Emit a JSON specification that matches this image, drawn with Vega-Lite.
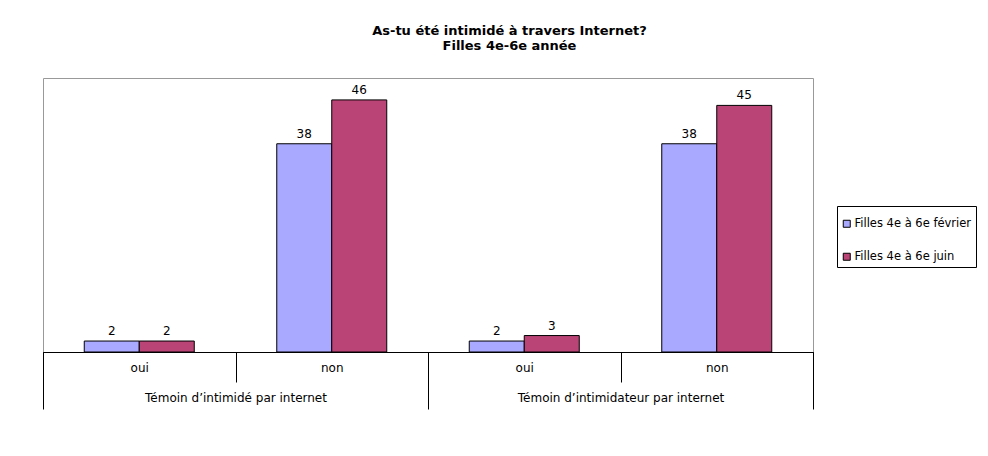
{
  "$schema": "https://vega.github.io/schema/vega-lite/v6.json",
  "width": 770,
  "height": 274,
  "padding": {"left": 42, "top": 25, "right": 10, "bottom": 5},
  "background": "white",
  "title": {
    "text": ["As-tu été intimidé à travers Internet?", "Filles 4e-6e année"],
    "font": "DejaVu Sans",
    "fontSize": 13,
    "fontWeight": "bold",
    "color": "black",
    "anchor": "middle",
    "frame": "bounds",
    "lineHeight": 15,
    "offset": 25
  },
  "data": {
    "values": [
      {"group": "Témoin d’intimidé par internet", "cat": "Témoin d’intimidé par internet|oui", "series": "Filles 4e à 6e février", "value": 2},
      {"group": "Témoin d’intimidé par internet", "cat": "Témoin d’intimidé par internet|oui", "series": "Filles 4e à 6e juin", "value": 2},
      {"group": "Témoin d’intimidé par internet", "cat": "Témoin d’intimidé par internet|non", "series": "Filles 4e à 6e février", "value": 38},
      {"group": "Témoin d’intimidé par internet", "cat": "Témoin d’intimidé par internet|non", "series": "Filles 4e à 6e juin", "value": 46},
      {"group": "Témoin d’intimidateur par internet", "cat": "Témoin d’intimidateur par internet|oui", "series": "Filles 4e à 6e février", "value": 2},
      {"group": "Témoin d’intimidateur par internet", "cat": "Témoin d’intimidateur par internet|oui", "series": "Filles 4e à 6e juin", "value": 3},
      {"group": "Témoin d’intimidateur par internet", "cat": "Témoin d’intimidateur par internet|non", "series": "Filles 4e à 6e février", "value": 38},
      {"group": "Témoin d’intimidateur par internet", "cat": "Témoin d’intimidateur par internet|non", "series": "Filles 4e à 6e juin", "value": 45}
    ]
  },
  "layer": [
    {
      "encoding": {
        "x": {
          "field": "cat",
          "type": "nominal",
          "sort": null,
          "scale": {"paddingInner": 0, "paddingOuter": 0},
          "axis": {
            "title": null,
            "orient": "bottom",
            "labelAngle": 0,
            "labelExpr": "split(datum.label, '|')[1]",
            "tickBand": "extent",
            "tickSize": 30,
            "tickColor": "black",
            "domainColor": "black",
            "labelPadding": -20,
            "labelFont": "DejaVu Sans",
            "labelFontSize": 12,
            "labelColor": "black"
          }
        },
        "xOffset": {
          "field": "series",
          "type": "nominal",
          "sort": ["Filles 4e à 6e février", "Filles 4e à 6e juin"],
          "scale": {"paddingInner": 0, "paddingOuter": 0.75}
        },
        "y": {
          "field": "value",
          "type": "quantitative",
          "scale": {"domain": [0, 50]},
          "axis": null
        }
      },
      "layer": [
        {
          "mark": {"type": "bar", "stroke": "black", "strokeWidth": 1},
          "encoding": {
            "color": {
              "field": "series",
              "type": "nominal",
              "sort": ["Filles 4e à 6e février", "Filles 4e à 6e juin"],
              "scale": {"domain": ["Filles 4e à 6e février", "Filles 4e à 6e juin"], "range": ["#A9A9FF", "#BB4477"]},
              "legend": {
                "title": " ",
                "titleFontSize": 4,
                "titlePadding": 4,
                "orient": "none",
                "legendX": 794,
                "legendY": 128,
                "strokeColor": "black",
                "fillColor": "white",
                "padding": 4,
                "rowPadding": 20,
                "symbolType": "square",
                "symbolSize": 49,
                "symbolStrokeColor": "black",
                "symbolStrokeWidth": 1,
                "labelOffset": 2,
                "labelFont": "DejaVu Sans",
                "labelFontSize": 11.5,
                "labelColor": "black"
              }
            }
          }
        },
        {
          "mark": {"type": "text", "dy": -3, "baseline": "bottom", "font": "DejaVu Sans", "fontSize": 12, "color": "black"},
          "encoding": {"text": {"field": "value", "type": "quantitative"}}
        }
      ]
    },
    {
      "mark": {"type": "text", "text": "", "opacity": 0},
      "encoding": {
        "x": {
          "field": "group",
          "type": "nominal",
          "sort": null,
          "scale": {"paddingInner": 0, "paddingOuter": 0},
          "axis": {
            "title": null,
            "orient": "bottom",
            "labelAngle": 0,
            "labelLimit": 0,
            "tickBand": "extent",
            "tickSize": 57,
            "tickColor": "black",
            "domainColor": "black",
            "labelPadding": -17,
            "labelFont": "DejaVu Sans",
            "labelFontSize": 12,
            "labelColor": "black"
          }
        }
      }
    }
  ],
  "resolve": {"scale": {"x": "independent"}, "axis": {"x": "independent"}},
  "config": {
    "view": {"stroke": "#999999", "strokeWidth": 1},
    "axis": {"grid": false}
  }
}
